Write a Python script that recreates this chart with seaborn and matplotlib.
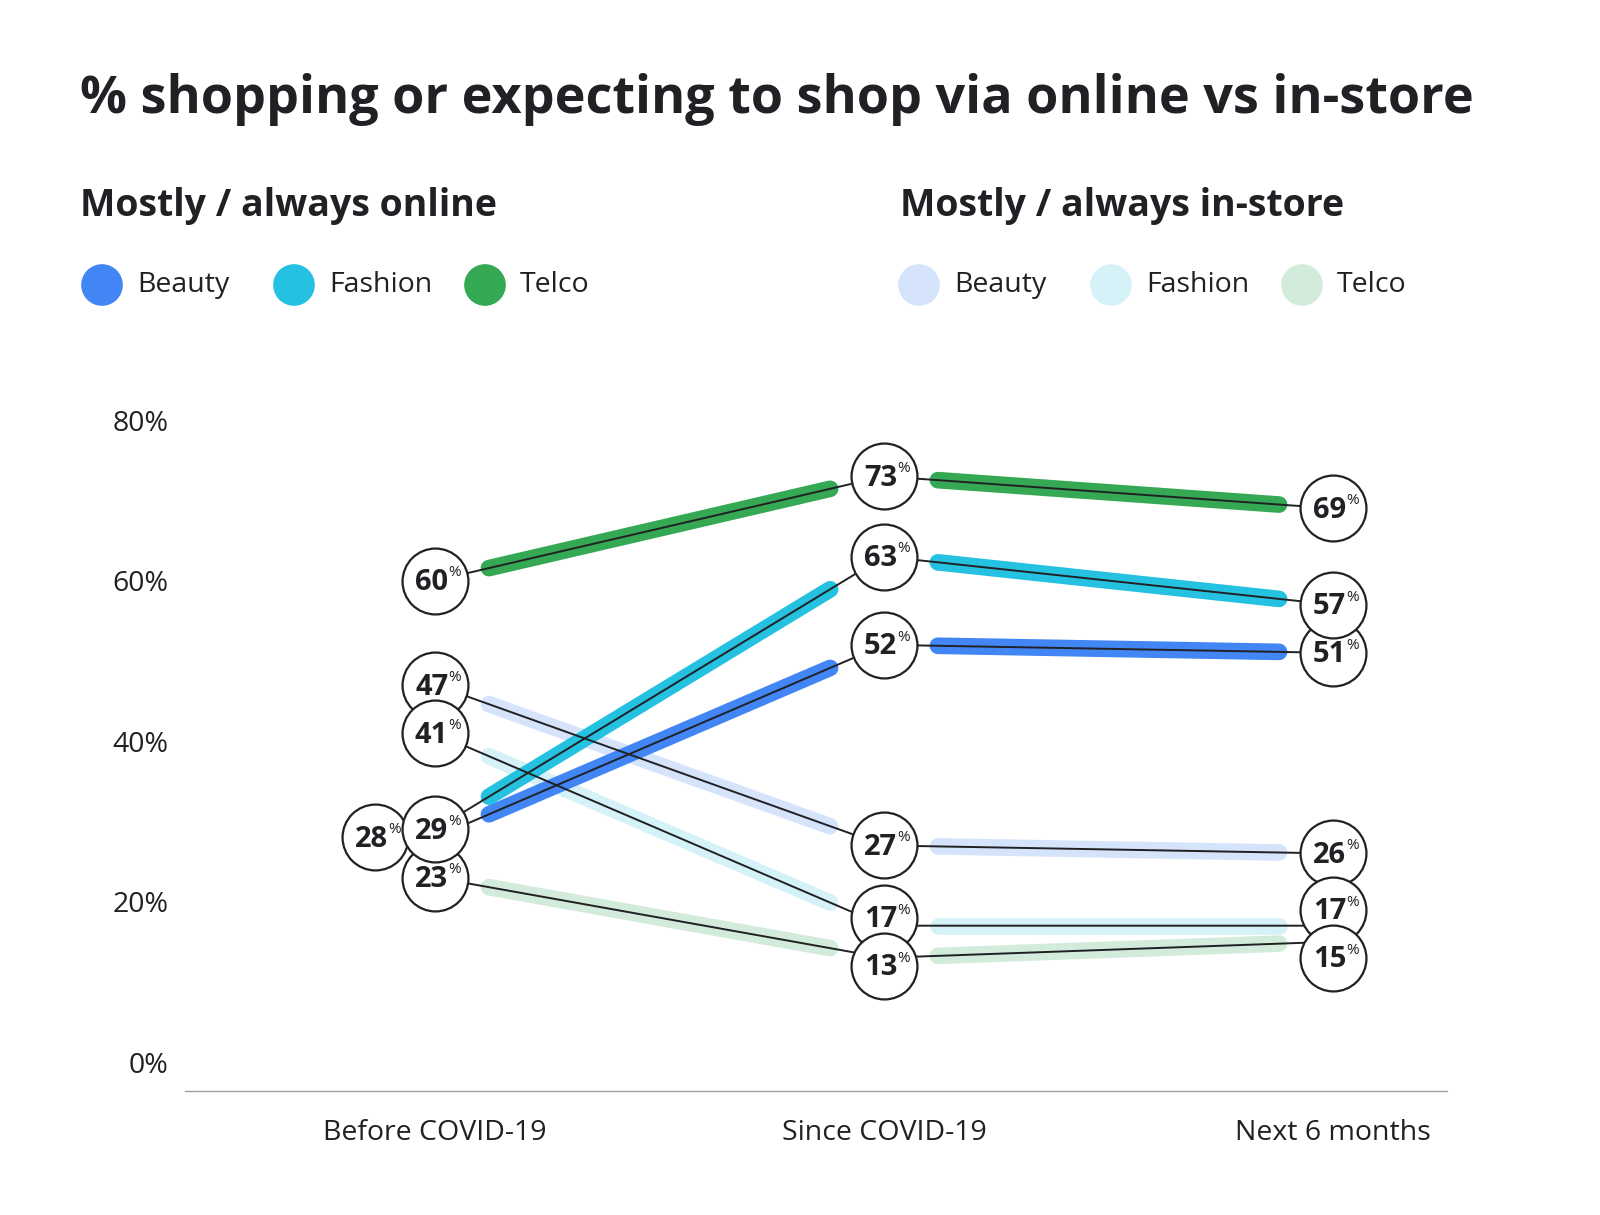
import numpy as np
import pandas as pd
import matplotlib
matplotlib.use("Agg")
import matplotlib.pyplot as plt
import matplotlib.transforms as mtrans
import seaborn as sns

# Data
periods = ["Before COVID-19", "Since COVID-19", "Next 6 months"]
categories = ["Beauty", "Fashion", "Telco"]
online_beauty = [28, 52, 51]
online_fashion = [29, 63, 57]
online_telco = [60, 73, 69]
instore_beauty = [47, 27, 26]
instore_fashion = [41, 17, 17]
instore_telco = [23, 13, 15]
y_ticks = [0, 20, 40, 60, 80]

online_colors = ["#4285F4", "#24C1E0", "#34A853"]
instore_colors = ["#D6E4FB", "#D5F2F8", "#D3EBDA"]
ink = "#202124"

rows = []
groups = [("In-store", [instore_beauty, instore_fashion, instore_telco], instore_colors),
          ("Online", [online_beauty, online_fashion, online_telco], online_colors)]
for group, series, colors in groups:
    for cat, vals, col in zip(categories, series, colors):
        for i, v in enumerate(vals):
            rows.append({"group": group, "category": cat, "series": group + " " + cat,
                         "x": i, "value": v, "color": col})
df = pd.DataFrame(rows)

sns.set_style("white")
plt.rcParams["font.family"] = ["Open Sans", "DejaVu Sans"]

fig = plt.figure(figsize=(16, 12.15), dpi=100)
ax = fig.add_axes([185 / 1600, 1 - 1091 / 1215, (1447 - 185) / 1600, (1091 - 380) / 1215])
ax.set_xlim(-0.557, 2.254)
ax.set_ylim(-3.6, 85.0)

# thick coloured segments, trimmed away from the circles
for name, d in df.groupby("series", sort=False):
    d = d.sort_values("x")
    xs, ys = d["x"].to_numpy(), d["value"].to_numpy()
    col = d["color"].iloc[0]
    base = 2 if d["group"].iloc[0] == "Online" else 1
    for i in range(len(xs) - 1):
        t = np.array([0.12, 0.88])
        sx = xs[i] + t * (xs[i + 1] - xs[i])
        sy = ys[i] + t * (ys[i + 1] - ys[i])
        ax.plot(sx, sy, color=col, lw=12, solid_capstyle="round", zorder=base)

# thin connecting lines
sns.lineplot(data=df, x="x", y="value", units="series", estimator=None,
             color=ink, lw=1.4, ax=ax, legend=False, zorder=3)

# label placement: the 28% bubble sits to the left, others are pushed apart vertically
df["dx"] = 0.0
df.loc[(df["series"] == "Online Beauty") & (df["x"] == 0), "dx"] = -60
px_per_unit = ax.transData.transform((0, 1))[1] - ax.transData.transform((0, 0))[1]
df["py"] = df["value"] * px_per_unit
df["dy"] = 0.0
min_sep = 48
for xi in range(len(periods)):
    idx = df[(df["x"] == xi) & (df["dx"] == 0)].sort_values("value").index.tolist()
    for _ in range(50):
        for a, b in zip(idx[:-1], idx[1:]):
            ya = df.at[a, "py"] + df.at[a, "dy"]
            yb = df.at[b, "py"] + df.at[b, "dy"]
            if yb - ya < min_sep:
                push = (min_sep - (yb - ya)) / 2
                df.at[a, "dy"] -= push
                df.at[b, "dy"] += push

# labelled circles
order = ["In-store Beauty", "In-store Fashion", "In-store Telco",
         "Online Beauty", "Online Telco", "Online Fashion"]
for k, name in enumerate(order):
    d = df[df["series"] == name]
    for _, r in d.iterrows():
        tr = mtrans.offset_copy(ax.transData, fig=fig, x=r["dx"], y=r["dy"], units="dots")
        z = 9 if r["dx"] != 0 else 10 + k * 2
        ax.scatter([r["x"]], [r["value"]], s=2250, facecolor="white",
                   edgecolor=ink, linewidth=1.6, zorder=z, transform=tr)
        ax.annotate(f"{r['value']}", (r["x"], r["value"]), xycoords=tr,
                    xytext=(9.5, -1.5), textcoords="offset points", ha="right", va="center",
                    fontsize=21, fontweight="bold", color=ink, zorder=z + 1)
        ax.annotate("%", (r["x"], r["value"]), xycoords=tr,
                    xytext=(9.5, 5.5), textcoords="offset points", ha="left", va="center",
                    fontsize=11, color=ink, zorder=z + 1)

ax.set_xticks([0, 1, 2])
ax.set_xticklabels(periods, fontsize=20.5, color=ink)
ax.set_yticks(y_ticks)
ax.set_yticklabels([f"{v}%" for v in y_ticks], fontsize=20.5, color=ink)
ax.tick_params(axis="x", length=0, pad=20)
ax.tick_params(axis="y", length=0, pad=12)
ax.set_xlabel("")
ax.set_ylabel("")
for s in ["left", "top", "right"]:
    ax.spines[s].set_visible(False)
ax.spines["bottom"].set_color("#9AA0A6")
ax.spines["bottom"].set_linewidth(1.0)

# header in pixel coordinates
top = fig.add_axes([0, 0, 1, 1], zorder=-1)
top.set_xlim(0, 1600)
top.set_ylim(1215, 0)
top.axis("off")
top.text(80, 100, "% shopping or expecting to shop via online vs in-store",
         fontsize=37.5, fontweight="bold", color=ink, va="center", ha="left")
top.text(80, 206, "Mostly / always online", fontsize=27, fontweight="bold",
         color=ink, va="center", ha="left")
top.text(900, 206, "Mostly / always in-store", fontsize=27, fontweight="bold",
         color=ink, va="center", ha="left")

leg_x = [102, 294, 485]
for cols, shift in [(online_colors, 0), (instore_colors, 817)]:
    for cx, cat, col in zip(leg_x, categories, cols):
        top.scatter([cx + shift], [285], s=900, color=col, edgecolor="none")
        top.text(cx + shift + 35, 285, cat, fontsize=20.5, color=ink, va="center", ha="left")

fig.savefig("out.png", dpi=100, facecolor="white")
